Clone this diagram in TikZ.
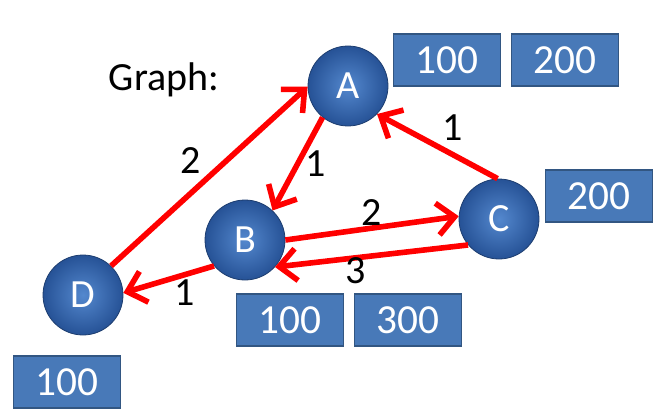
\documentclass[tikz,border=0pt]{standalone}
\usepackage{fontspec}
\setmainfont{Carlito}
\usetikzlibrary{positioning,arrows.meta}

\definecolor{ballblue}{RGB}{84,136,206}
\definecolor{balldark}{RGB}{38,82,150}
\definecolor{ballrim}{RGB}{30,62,112}
\definecolor{boxblue}{RGB}{72,121,184}
\definecolor{boxrim}{RGB}{50,86,130}
\definecolor{edgered}{RGB}{255,0,0}

\begin{document}
\begin{tikzpicture}[
  x=0.75pt, y=-0.75pt,
  vertex/.style={circle, draw=ballrim, semithick, inner sep=0pt,
    minimum size=60pt, shading=radial, inner color=ballblue,
    outer color=balldark, text=white, font=\fontsize{30}{33}\selectfont},
  valbox/.style={rectangle, draw=boxrim, thick, fill=boxblue,
    minimum width=80pt, minimum height=39pt, inner sep=0pt,
    text=white, font=\fontsize{31}{34}\selectfont},
  edge/.style={draw=edgered, line width=4.2pt,
    -{Straight Barb[length=13pt, width=24pt]}},
  lbl/.style={font=\fontsize{30}{33}\selectfont, inner sep=2pt},
  node distance=7.5pt
]
\useasboundingbox (0,0) rectangle (653,410);

% ── Title ──
\node[lbl] (title) at (164,80) {Graph:};

% ── Vertices ──
\node[vertex] (A) at (348,86)  {A};
\node[vertex] (B) at (245,240) {B};
\node[vertex] (C) at (499,219) {C};
\node[vertex] (D) at (83,295)  {D};

% ── Value boxes ──
\node[valbox] (a1) at (447,60) {100};
\node[valbox, right=of a1] (a2) {200};
\node[valbox] (b1) at (290,320) {100};
\node[valbox, right=of b1] (b2) {300};
\node[valbox] (c1) at (599,196) {200};
\node[valbox] (d1) at (67,382) {100};

% ── Edges ──
\draw[edge] (D.46) -- (A.181)
  node[lbl, midway, above left=-2pt and 2pt] {2};
\draw[edge] (A.231) -- (B.47)
  node[lbl, midway, right=2pt] {1};
\draw[edge] (C.92) -- (A.316)
  node[lbl, midway, above right=0pt and 0pt] {1};
\draw[edge] (B.0) -- (C.176)
  node[lbl, midway, above=-2pt] {2};
\draw[edge] (C.220) -- (B.318)
  node[lbl, pos=0.58, below=-4pt] {3};
\draw[edge] (B.220) -- (D.3)
  node[lbl, midway, below right=-4pt and 0pt] {1};

\end{tikzpicture}
\end{document}
